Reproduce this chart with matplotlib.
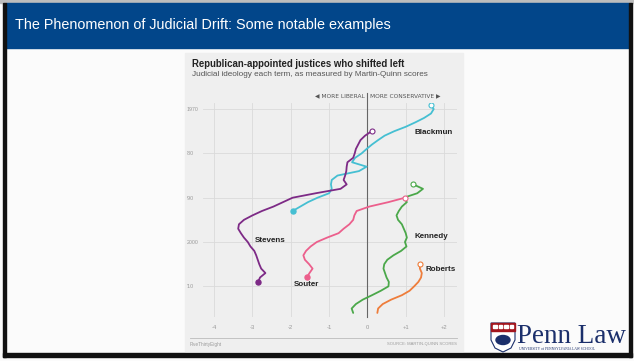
import matplotlib
matplotlib.use("Agg")
import matplotlib.pyplot as plt
from matplotlib.patches import Rectangle, Polygon, Ellipse
import numpy as np

# Martin-Quinn scores by term
blackmun_first = 1969
blackmun = [1.65, 1.73, 1.66, 1.48, 1.25, 1.00, 0.70, 0.45, 0.28, 0.12,
            -0.02, -0.15, -0.32, -0.40, -0.02, -0.22, -0.78, -0.93, -0.95, -0.93,
            -1.00, -1.30, -1.55, -1.75, -1.95]

stevens_first = 1975
stevens = [0.11, -0.06, -0.18, -0.24, -0.30, -0.33, -0.37, -0.52, -0.54, -0.55,
           -0.58, -0.62, -0.54, -0.70, -1.35, -1.95, -2.20, -2.45, -2.75, -3.00,
           -3.22, -3.35, -3.37, -3.30, -3.22, -3.12, -3.05, -2.95, -2.90, -2.86,
           -2.82, -2.77, -2.66, -2.80, -2.85]

souter_first = 1990
souter = [0.98, 0.55, 0.05, -0.28, -0.34, -0.37, -0.47, -0.62, -0.75, -1.05,
          -1.32, -1.48, -1.60, -1.67, -1.63, -1.52, -1.43, -1.51, -1.58]

kennedy_first = 1987
kennedy = [1.20, 1.45, 1.30, 0.95, 1.03, 0.90, 0.82, 0.76, 0.80, 0.90,
           0.95, 1.00, 1.03, 0.98, 1.02, 0.88, 0.68, 0.52, 0.44, 0.42,
           0.46, 0.50, 0.56, 0.55, 0.35, 0.12, -0.12, -0.30, -0.41, -0.37]

roberts_first = 2005
roberts = [1.37, 1.37, 1.42, 1.40, 1.33, 1.22, 1.10, 0.90, 0.62, 0.40, 0.28, 0.26]

justices = ["Blackmun", "Stevens", "Souter", "Kennedy", "Roberts"]
colors = ["#45bfd2", "#7d2a86", "#ec5f8c", "#4ba84a", "#ee7d3b"]
retired = [True, True, True, False, False]

x_ticks = [-4, -3, -2, -1, 0, 1, 2]
x_labels = ["-4", "-3", "-2", "-1", "0", "+1", "+2"]
y_ticks = [1970, 1980, 1990, 2000, 2010]
y_labels = ["1970", "\u201980", "\u201990", "2000", "\u201910"]

W, H = 634, 361
fig = plt.figure(figsize=(W / 100, H / 100), dpi=100)

# slide background drawn in pixel coordinates
bg = fig.add_axes([0, 0, 1, 1])
bg.set_xlim(0, W)
bg.set_ylim(H, 0)
bg.axis("off")
bg.add_patch(Rectangle((0, 0), W, H, color="#fbfbfb"))
bg.add_patch(Rectangle((0, 0), W, 3, color="#bdbdbd"))
bg.add_patch(Rectangle((6, 3), 623, 45, color="#02468a"))
bg.add_patch(Rectangle((3, 3), 3, 354, color="#111111"))
bg.add_patch(Rectangle((629, 3), 3, 354, color="#111111"))
bg.add_patch(Rectangle((3, 353), 629, 4, color="#111111"))
bg.text(15, 29.5, "The Phenomenon of Judicial Drift: Some notable examples",
        color="white", fontsize=10.4, family="Liberation Sans", va="baseline")

# chart panel
bg.add_patch(Rectangle((185, 53), 278, 298, color="#efefef"))
bg.text(191.5, 64, "Republican-appointed justices who shifted left",
        fontsize=6.95, fontweight="bold", family="Liberation Sans",
        color="#222222", va="center")
bg.text(191.5, 74.5, "Judicial ideology each term, as measured by Martin-Quinn scores",
        fontsize=5.9, family="Liberation Sans", color="#555555", va="center")
bg.plot([190, 457], [338.3, 338.3], color="#bbbbbb", lw=0.6)
bg.text(190, 344.5, "FiveThirtyEight", fontsize=3.4, color="#9a9a9a",
        family="Liberation Sans", va="center")
bg.text(457, 344.5, "SOURCE: MARTIN-QUINN SCORES", fontsize=3.0, color="#9a9a9a",
        family="Liberation Sans", va="center", ha="right")

# Penn Law logo
shield = Polygon([(491, 323), (515, 323), (515, 340), (511, 348), (503, 352),
                  (495, 348), (491, 340)], closed=True, fc="white", ec="#1b2f6b", lw=0.8)
bg.add_patch(shield)
bg.add_patch(Rectangle((491, 323), 24, 8, color="#a3161e"))
for bx in [493, 498.5, 504, 509.5]:
    bg.add_patch(Rectangle((bx, 325), 3.5, 3, color="white"))
bg.add_patch(Ellipse((503, 340), 14, 9, color="#1b2f6b"))
bg.text(517, 343, "Penn Law", fontsize=19.5, family="Liberation Serif",
        color="#1b2f6b", va="baseline")
bg.text(519, 349.5, "UNIVERSITY of PENNSYLVANIA LAW SCHOOL", fontsize=2.6,
        family="Liberation Serif", color="#1b2f6b", va="center")

# the chart itself
ax = fig.add_axes([203.3 / W, 1 - 316.7 / H, (456.7 - 203.3) / W, (316.7 - 103.3) / H])
ax.set_facecolor("none")
ax.set_xlim(-4.28, 2.33)
ax.set_ylim(2016.85, 1968.7)
for s in ax.spines.values():
    s.set_visible(False)
ax.set_xticks(x_ticks)
ax.set_xticklabels(x_labels, fontsize=4.2, color="#999999", family="Liberation Sans")
ax.set_yticks(y_ticks)
ax.set_yticklabels(y_labels, fontsize=3.8, color="#999999", family="Liberation Sans",
                   ha="left")
ax.tick_params(axis="x", length=0, pad=6)
ax.tick_params(axis="y", length=0, pad=12)
ax.grid(True, color="#dadada", lw=0.6)
ax.set_axisbelow(True)

ax.plot([0, 0], [2016.85, 1966.4], color="#666666", lw=0.8, clip_on=False, zorder=2)
ax.text(-0.08, 1967.1, "\u25c0 MORE LIBERAL", fontsize=4.2, color="#555555",
        ha="right", va="center", family="DejaVu Sans")
ax.text(0.07, 1967.1, "MORE CONSERVATIVE \u25b6", fontsize=4.2, color="#555555",
        ha="left", va="center", family="DejaVu Sans")

series = [(blackmun_first, blackmun), (stevens_first, stevens), (souter_first, souter),
          (kennedy_first, kennedy), (roberts_first, roberts)]
for (first, vals), name, c, done in zip(series, justices, colors, retired):
    years = np.arange(first, first + len(vals))
    ax.plot(vals, years, color=c, lw=1.3, solid_joinstyle="round",
            solid_capstyle="round", zorder=3)
    ax.plot(vals[0], years[0], "o", mfc="white", mec=c, ms=3.6, mew=0.8, zorder=4)
    if done:
        ax.plot(vals[-1], years[-1], "o", color=c, ms=3.6, zorder=4)

label_pos = {"Blackmun": (1.23, 1975.3), "Stevens": (-2.93, 1999.6),
             "Souter": (-1.93, 2009.5), "Kennedy": (1.22, 1998.8),
             "Roberts": (1.51, 2006.2)}
for name in justices:
    lx, ly = label_pos[name]
    ax.text(lx, ly, name, fontsize=5.8, fontweight="bold", color="#222222",
            va="center", ha="left", family="Liberation Sans")

fig.savefig("out.png", dpi=100)
